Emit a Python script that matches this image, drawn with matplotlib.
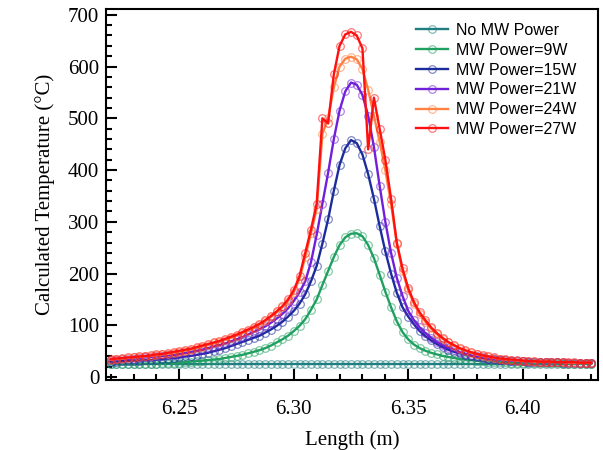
import numpy as np
import matplotlib
matplotlib.use("Agg")
import matplotlib.pyplot as plt
from matplotlib.ticker import MultipleLocator

# posiciones a lo largo del tubo (m), paso 0.0025
length = np.round(np.arange(85) * 0.0025 + 6.22, 4)

no_mw = [25] * 85

mw_9w = [25, 25, 25, 25, 25, 26, 26, 26, 26, 27, 27,
         27, 28, 29, 30, 31, 32, 33, 34, 35, 37, 39, 41, 43, 46, 49, 52, 56, 61, 67, 73,
         80, 89, 99, 112, 130, 150, 178, 205, 232, 255, 270,
         277,
         278, 272, 255, 230, 198, 165, 135, 108, 87, 73, 63, 56, 51, 47, 44, 41, 39, 37,
         35, 34, 33, 32, 31, 30, 30, 29, 29, 28, 28,
         28, 27, 27, 27, 27, 27, 27, 26, 26, 26, 26, 26, 26]

mw_15w = [30, 30, 31, 31, 32, 32, 33, 33, 34, 35, 36,
          37, 38, 40, 41, 43, 45, 47, 50, 53, 56, 60, 64, 68, 72, 76, 80, 86, 92, 99, 107,
          117, 128, 142, 160, 185, 215, 258, 305, 360, 410, 442,
          458,
          452, 430, 392, 345, 292, 243, 200, 163, 135, 117, 102, 89, 79, 71, 64, 58, 53, 49,
          46, 43, 41, 39, 37, 36, 35, 34, 33, 32, 31, 31, 30, 30, 29,
          29, 29, 29, 28, 28, 28, 28, 28, 28]

mw_21w = [33, 34, 35, 35, 36, 37, 38, 39, 40, 41, 42,
          43, 45, 47, 49, 51, 53, 56, 59, 62, 65, 69, 73, 77, 82, 87, 92, 98, 105, 113, 122,
          133, 147, 164, 185, 222, 275, 335, 395, 460, 515, 552,
          569,
          565, 545, 505, 445, 370, 300, 240, 192, 157, 128, 110, 96, 85, 76, 68, 62, 57, 52,
          48, 45, 42, 40, 38, 36, 35, 34, 33, 32, 31, 31, 30, 30, 30,
          29, 29, 29, 29, 28, 28, 28, 28, 28]

mw_24w = [34, 35, 36, 37, 38, 39, 40, 41, 42, 44, 45,
          47, 49, 51, 53, 56, 59, 62, 65, 68, 72, 76, 80, 85, 90, 95, 101, 108, 116, 125, 135,
          147, 164, 190, 232, 278, 325, 470, 500, 560, 600, 615,
          619,
          614, 595, 555, 505, 455, 400, 335, 258, 205, 168, 142, 122, 107, 94, 83, 74, 67, 61,
          55, 51, 47, 44, 41, 39, 37, 35, 34, 33, 32, 31, 31,
          30, 30, 30, 29, 29, 29, 28, 28, 28, 28, 28]

mw_27w = [35, 36, 37, 38, 39, 40, 41, 42, 44, 45, 47,
          49, 51, 53, 55, 58, 61, 64, 67, 70, 74, 78, 82, 87, 92, 97, 103, 110, 118, 127, 137,
          150, 168, 195, 240, 285, 335, 500, 490, 585, 640, 662,
          667,
          660, 635, 440, 540, 480, 420, 345, 260, 210, 172, 145, 125, 110, 96, 85, 76, 68, 62,
          56, 52, 48, 45, 42, 40, 38, 36, 35, 34, 33, 32, 31, 31,
          30, 30, 30, 29, 29, 29, 29, 28, 28, 28]

labels = ["No MW Power", "MW Power=9W", "MW Power=15W",
          "MW Power=21W", "MW Power=24W", "MW Power=27W"]
series = [no_mw, mw_9w, mw_15w, mw_21w, mw_24w, mw_27w]
colors = ["#1f7f80", "#1fa060", "#1c2c9c", "#7020d8", "#ff8040", "#ff1010"]

fig = plt.figure(figsize=(6.03, 4.5), dpi=100)
ax = fig.add_axes([0.176, 0.155, 0.816, 0.826])

for y, lab, c in zip(series, labels, colors):
    ax.plot(length, y, color=c, lw=1.7, marker="o", ms=5.5, mfc="none",
            mec=matplotlib.colors.to_rgba(c, 0.55), mew=0.9, label=lab)

ax.set_xlim(6.218, 6.433)
ax.set_ylim(-6, 712)
ax.xaxis.set_major_locator(MultipleLocator(0.05))
ax.xaxis.set_minor_locator(MultipleLocator(0.01))
ax.yaxis.set_major_locator(MultipleLocator(100))
ax.yaxis.set_minor_locator(MultipleLocator(20))
ax.xaxis.set_major_formatter(matplotlib.ticker.FormatStrFormatter("%.2f"))

ax.tick_params(which="both", direction="in", top=False, right=False, width=1.5)
ax.tick_params(which="major", length=8, labelsize=15)
ax.tick_params(which="minor", length=4.5)
ax.tick_params(axis="x", which="major", pad=14)
ax.tick_params(axis="y", which="major", pad=5)
for lbl in ax.get_xticklabels() + ax.get_yticklabels():
    lbl.set_family("Liberation Serif")
for sp in ax.spines.values():
    sp.set_linewidth(1.5)

ax.set_xlabel("Length (m)", family="Liberation Serif", fontsize=15, labelpad=8)
ax.set_ylabel("Calculated Temperature (°C)", family="Liberation Serif", fontsize=15, labelpad=9)

ax.legend(loc="upper right", bbox_to_anchor=(0.985, 1.0), frameon=False,
          prop={"family": "Liberation Sans", "size": 11.5}, handlelength=2.0,
          handletextpad=0.5, labelspacing=0.3)

fig.savefig("out.png", dpi=100)
